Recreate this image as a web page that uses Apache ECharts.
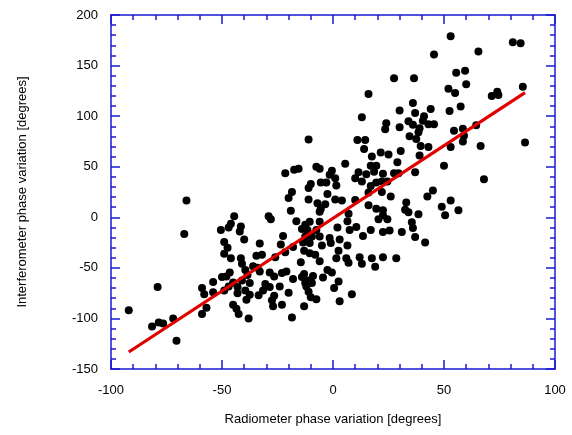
<!DOCTYPE html>
<html><head><meta charset="utf-8">
<script src="https://cdn.jsdelivr.net/npm/echarts@6/dist/echarts.min.js"></script>
<style>html,body{margin:0;padding:0;background:#fff}#c{width:572px;height:435px}</style>
</head><body><div id="c"></div>
<script>
const xTicks = [-100, -50, 0, 50, 100];
const yTicks = [-150, -100, -50, 0, 50, 100, 150, 200];
const radiometer = [27.5,16,13,24,23.5,30,30,-11,11,14.5,53,81,84.5,45.5,65.5,36.5,55.5,59.5,60,52,55,71.5,74,74.5,85.5,36,37,44,41,57.5,52.5,34,36,39,40.5,43,45.5,38.5,34.5,37.5,64.5,54.5,58.5,59,86.5,
39.5,43,30.5,39,29,29.5,27.5,37,50,53,58.5,66.5,68,45,42.5,53,33,32.5,34,49,56.5,50.5,38.5,35.5,36,31,37,41.5,
14,17.5,21.5,25,5.5,17,19.5,-7.5,-6,-15.5,-17.5,-21.5,-0.5,-1.5,1,11.5,15,18.5,22.5,10,13,19.5,22,24.5,-5.5,-3,-10,-11,1.5,-2.5,17,16,22,26,-18.5,-20,-11,1,4,10,-7,-3.5,-5.5,-6,16,19.5,22.5,22.5,20.5,24.5,-19,-29,-28,7,6.5,-6,-16.5,-12.5,-10.5,-14,-11.5,-7.5,2,7.5,10.5,17,22.5,25.5,-22.5,-12.5,-9.5,-6,-1.5,3,13.5,-13.5,-10.5,-1,-5,-33,-23.5,-18,6.5,-21.5,-32,-34.5,-26,-13,-10.5,-8,2.5,1.5,6,12,17.5,22.5,28.5,
-66,-67,-44.5,-46,-47,-50.5,-41.5,-42,-40,-49,-47.5,-49,-46,-41.5,
-92,-79,-81.5,-78.5,-76.5,-72,-70.5,-59,-58,-54,-54,-57,-59,-50,-48,-46.5,-49,-47,-45,-43,-43,-41,-39.5,-38.5,-41,-37.5,-39.5,-37.5,-39,-45,-43.5,-42.5,-38,-36,-34,-33.5,
-14.5,-6,7,13,19,-33,-28.5,-26.5,-23,-21,-30.5,-28.5,-24,-31.5,-20,-26.5,-27.5,-27,-23,-18,-14,-13,-12.5,-11,-9.5,-9,-12,-11,-10,-7.5,-13,-4.5,-2.5,-0.5,2.5,0.5,3,8.5,-18.5];
const interferometer = [137.5,122,99,93,87,105.5,89,77,76.5,76.5,179,173,172,161,164,137.5,143,145,131.5,127,123,120,124,121,129,113,103,107,100,109.5,105,95,91.5,88,95.5,92,92,84,80,77.5,91,85.5,87.5,80.5,74,
70.5,69.5,65.5,61,54.5,43.5,43.5,44.5,51,69.5,75,70.5,37.5,26.5,20.5,16.5,14.5,7.5,5,10.5,7,2,3,-5,-10.5,-14.5,-19.5,-25,
67.5,60,64,62,53,51,51,50,48,48,47,43.5,46,42,38.5,44.5,42.5,45,43,38.5,35.5,34.5,35.5,35.5,34.5,34.5,33,29,31.5,23,31,24.5,25,20.5,25,19,17.5,17.5,16.5,17,14,13,8.5,5.5,12,8.5,7,2,-2,-2,6.5,1,-2,3.5,-4,-4.5,-4,-7.5,-4.5,-11.5,-12.5,-12.5,-10,-12.5,-9.5,-12.5,-14.5,-13,-18.5,-19,-19,-19,-20.5,-22,-18.5,-25,-25.5,-25.5,-28,-26,-27,-29.5,-28,-34.5,-37,-38,-39.5,-33,-35.5,-37,-33,-40.5,-40.5,-39.5,-40.5,-39.5,-40.5,
16.5,-16.5,1,-6.5,-10,-12.5,-9,-14,-22,-24.5,-30,-36,-40.5,-40.5,
-92,-69,-108,-104,-105,-100,-122,-70,-76,-64,-74,-89.5,-95.5,-59,-58.5,-54.5,-72.5,-68.5,-64.5,-69,-75,-46,-52,-57,-62.5,-65,-72.5,-76.5,-81.5,-86.5,-90.5,-95.5,-100,-48.5,-50,-77,
-44.5,-43.5,-45,-46,-49,-53.5,-54.5,-58.5,-55,-53.5,-66,-69,-68.5,-72.5,-74.5,-77.5,-82,-88,-86.5,-61,-59,-56,-65,-62.5,-65,-58,-68.5,-73.5,-79,-81,-88,-59.5,-52,-54.5,-63.5,-70,-83,-76,-99];
const fitX = [-92, 86.5];
const fitY = [-133.2, 123.3];

const blue = '#1a1ad2';
const font = 'Liberation Sans, Arial, sans-serif';
const pts = radiometer.map((x, i) => [x, interferometer[i]]);
const fit = fitX.map((x, i) => [x, fitY[i]]);

function axisBase(extra) {
  return Object.assign({
    type: 'value',
    axisLine: { show: true, onZero: false, lineStyle: { color: blue, width: 1.5 } },
    axisTick: { show: true, inside: true, length: 9, lineStyle: { color: blue, width: 1.5 } },
    minorTick: { show: true, splitNumber: 5, length: 5, lineStyle: { color: blue, width: 1.5 } },
    splitLine: { show: false },
    minorSplitLine: { show: false }
  }, extra);
}

const chart = echarts.init(document.getElementById('c'), null, { renderer: 'canvas' });
chart.setOption({
  animation: false,
  backgroundColor: '#fff',
  textStyle: { fontFamily: font },
  grid: { left: 111, right: 17, top: 15, bottom: 66, containLabel: false },
  xAxis: [
    axisBase({
      min: xTicks[0], max: xTicks[xTicks.length - 1], interval: 50, position: 'bottom',
      name: 'Radiometer phase variation [degrees]', nameLocation: 'middle', nameGap: 44,
      nameTextStyle: { color: '#000', fontSize: 13, fontFamily: font },
      axisLabel: { color: '#000', fontSize: 13, margin: 15, fontFamily: font }
    }),
    axisBase({
      min: xTicks[0], max: xTicks[xTicks.length - 1], interval: 50, position: 'top',
      axisLabel: { show: false }
    })
  ],
  yAxis: [
    axisBase({
      min: yTicks[0], max: yTicks[yTicks.length - 1], interval: 50, position: 'left',
      name: 'Interferometer phase variation [degrees]', nameLocation: 'middle', nameGap: 82,
      nameTextStyle: { color: '#000', fontSize: 13, fontFamily: font },
      axisLabel: { color: '#000', fontSize: 13, margin: 13, fontFamily: font }
    }),
    axisBase({
      min: yTicks[0], max: yTicks[yTicks.length - 1], interval: 50, position: 'right',
      axisLabel: { show: false }
    })
  ],
  series: [
    {
      type: 'scatter', xAxisIndex: 0, yAxisIndex: 0, data: pts,
      symbol: 'circle', symbolSize: 8, itemStyle: { color: '#000', opacity: 1 }, z: 3
    },
    {
      type: 'line', xAxisIndex: 0, yAxisIndex: 0, data: fit,
      symbol: 'none', lineStyle: { color: '#e00000', width: 3.2 }, z: 4
    }
  ]
});
</script>
</body></html>
